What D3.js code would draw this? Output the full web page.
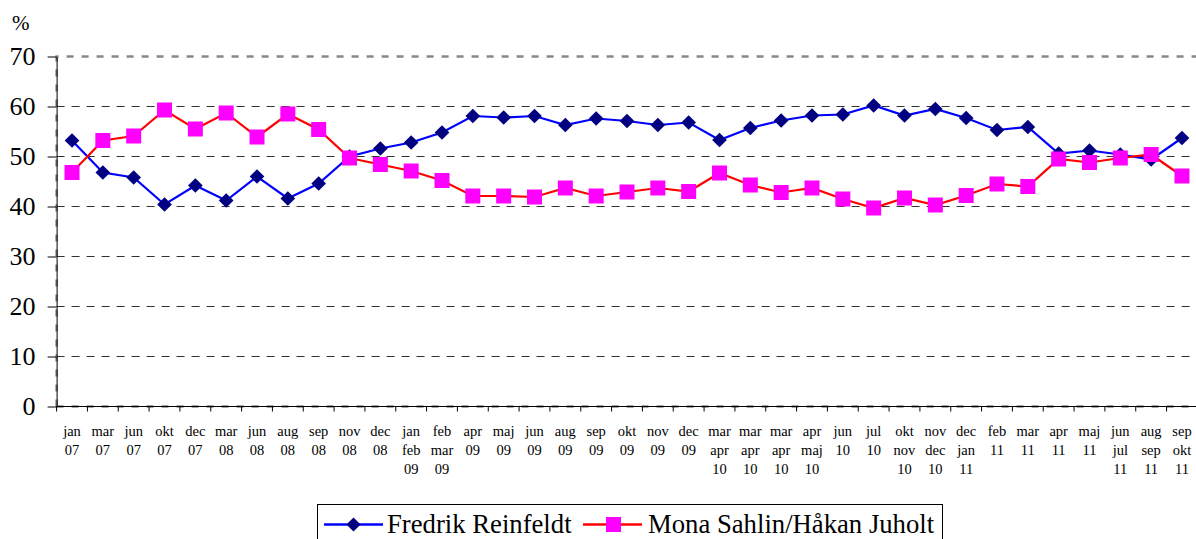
<!DOCTYPE html>
<html><head><meta charset="utf-8">
<script src="https://cdn.jsdelivr.net/npm/d3@7"></script>
<style>body{margin:0;background:#fff}svg{display:block}
.ser{font-family:"Liberation Serif","Times New Roman",Tinos,"DejaVu Serif",serif}</style>
</head><body>
<svg id="c" width="1196" height="539"></svg>
<script>
const categories = [
 ["jan","07"],["mar","07"],["jun","07"],["okt","07"],["dec","07"],["mar","08"],["jun","08"],["aug","08"],["sep","08"],["nov","08"],["dec","08"],
 ["jan","feb","09"],["feb","mar","09"],["apr","09"],["maj","09"],["jun","09"],["aug","09"],["sep","09"],["okt","09"],["nov","09"],["dec","09"],
 ["mar","apr","10"],["mar","apr","10"],["mar","apr","10"],["apr","maj","10"],["jun","10"],["jul","10"],["okt","nov","10"],["nov","dec","10"],["dec","jan","11"],
 ["feb","11"],["mar","11"],["apr","11"],["maj","11"],["jun","jul","11"],["aug","sep","11"],["sep","okt","11"]
];
const reinfeldt = [53.2,46.8,45.8,40.4,44.2,41.2,46.0,41.6,44.6,50.0,51.6,52.8,54.8,58.1,57.8,58.1,56.3,57.6,57.1,56.3,56.8,53.3,55.7,57.2,58.2,58.4,60.2,58.2,59.5,57.7,55.3,55.9,50.6,51.2,50.4,49.4,53.7];
const sahlin = [46.8,53.2,54.1,59.3,55.5,58.7,53.9,58.5,55.4,49.7,48.4,47.1,45.2,42.1,42.1,41.9,43.7,42.1,42.9,43.7,43.0,46.7,44.3,42.8,43.7,41.5,39.7,41.7,40.3,42.2,44.5,44.0,49.5,48.8,49.7,50.4,46.1];
const yTicks = [0,10,20,30,40,50,60,70];
const seriesNames = ["Fredrik Reinfeldt","Mona Sahlin/Håkan Juholt"];

const svg = d3.select("#c");
const L = 56.6, R = 1197.4, T = 56.5, B = 406.5;
const x = d3.scaleBand().domain(d3.range(categories.length)).range([L, R]).padding(0);
const y = d3.scaleLinear().domain([0,70]).range([B, T]);

// gridlines
svg.append("g").selectAll("line").data(yTicks.filter(d=>d>0 && d<70)).join("line")
  .attr("x1", L).attr("x2", R).attr("y1", d=>y(d)).attr("y2", d=>y(d))
  .attr("stroke", "#333").attr("stroke-width", 1).attr("stroke-dasharray", "8,7");
// plot border dashed gray
svg.append("path").attr("d", `M${L},${B}V${T}H${R}`).attr("fill","none")
  .attr("stroke","#888").attr("stroke-width",2.5).attr("stroke-dasharray","7,8");
svg.append("path").attr("d", `M${L},${B}H${R}`).attr("fill","none")
  .attr("stroke","#888").attr("stroke-width",2.5).attr("stroke-dasharray","7,8");

// y axis
const ya = svg.append("g").attr("transform", `translate(${L},0)`)
  .call(d3.axisLeft(y).tickValues(yTicks).tickSize(9).tickSizeOuter(0).tickPadding(12));
ya.attr("font-family", null).attr("font-size", null);
ya.select(".domain").attr("stroke","#000");
ya.selectAll("text").attr("class","ser").attr("font-size", 26).attr("fill","#000");
svg.append("text").attr("class","ser").attr("x", 12).attr("y", 30).attr("font-size", 21).text("%");

// x axis
svg.append("line").attr("x1", L).attr("x2", R).attr("y1", B).attr("y2", B).attr("stroke","#000");
svg.append("g").selectAll("line").data(d3.range(categories.length+1)).join("line")
  .attr("x1", d=> d < categories.length ? x(d) : R).attr("x2", d=> d < categories.length ? x(d) : R)
  .attr("y1", B).attr("y2", B+5).attr("stroke","#000");
const xl = svg.append("g").selectAll("text").data(categories).join("text")
  .attr("class","ser")
  .attr("x", (d,i)=>x(i)+x.bandwidth()/2).attr("y", 436)
  .attr("text-anchor","middle").attr("font-size", 14.5);
xl.selectAll("tspan").data(d=>d).join("tspan")
  .attr("x", function(){ return this.parentNode.getAttribute("x"); })
  .attr("dy", (d,i)=> i===0 ? 0 : 19).text(d=>d);

const cx = i => x(i) + x.bandwidth()/2;
const line = d3.line().x((d,i)=>cx(i)).y(d=>y(d));
svg.append("path").datum(reinfeldt).attr("d", line).attr("fill","none").attr("stroke","#0000FF").attr("stroke-width",2.2);
svg.append("path").datum(sahlin).attr("d", line).attr("fill","none").attr("stroke","#FF0000").attr("stroke-width",2.2);
svg.append("g").selectAll("path").data(reinfeldt).join("path")
  .attr("d", d3.symbol().type(d3.symbolSquare).size(108))
  .attr("transform", (d,i)=>`translate(${cx(i)},${y(d)}) rotate(45)`).attr("fill","#000080");
svg.append("g").selectAll("rect").data(sahlin).join("rect")
  .attr("x",(d,i)=>cx(i)-7.5).attr("y", d=>y(d)-7.5).attr("width",15).attr("height",15).attr("fill","#FF00FF");

// legend
const lg = svg.append("g");
lg.append("rect").attr("x",317.5).attr("y",504.5).attr("width",625).attr("height",40).attr("fill","none").attr("stroke","#000");
const items = [{name:seriesNames[0], x0:324, stroke:"#0000FF", tx:387},{name:seriesNames[1], x0:583, stroke:"#FF0000", tx:648}];
items.forEach((it,k)=>{
  lg.append("line").attr("x1",it.x0).attr("x2",it.x0+59).attr("y1",524.5).attr("y2",524.5).attr("stroke",it.stroke).attr("stroke-width",2.5);
  if(k===0) lg.append("path").attr("d", d3.symbol().type(d3.symbolSquare).size(100)).attr("transform",`translate(${it.x0+29.5},524.5) rotate(45)`).attr("fill","#000080");
  else lg.append("rect").attr("x",it.x0+23).attr("y",517).attr("width",15).attr("height",15).attr("fill","#FF00FF");
  lg.append("text").attr("class","ser").attr("x",it.tx).attr("y",532.5).attr("font-size",26.7).text(it.name);
});
</script>
</body></html>
